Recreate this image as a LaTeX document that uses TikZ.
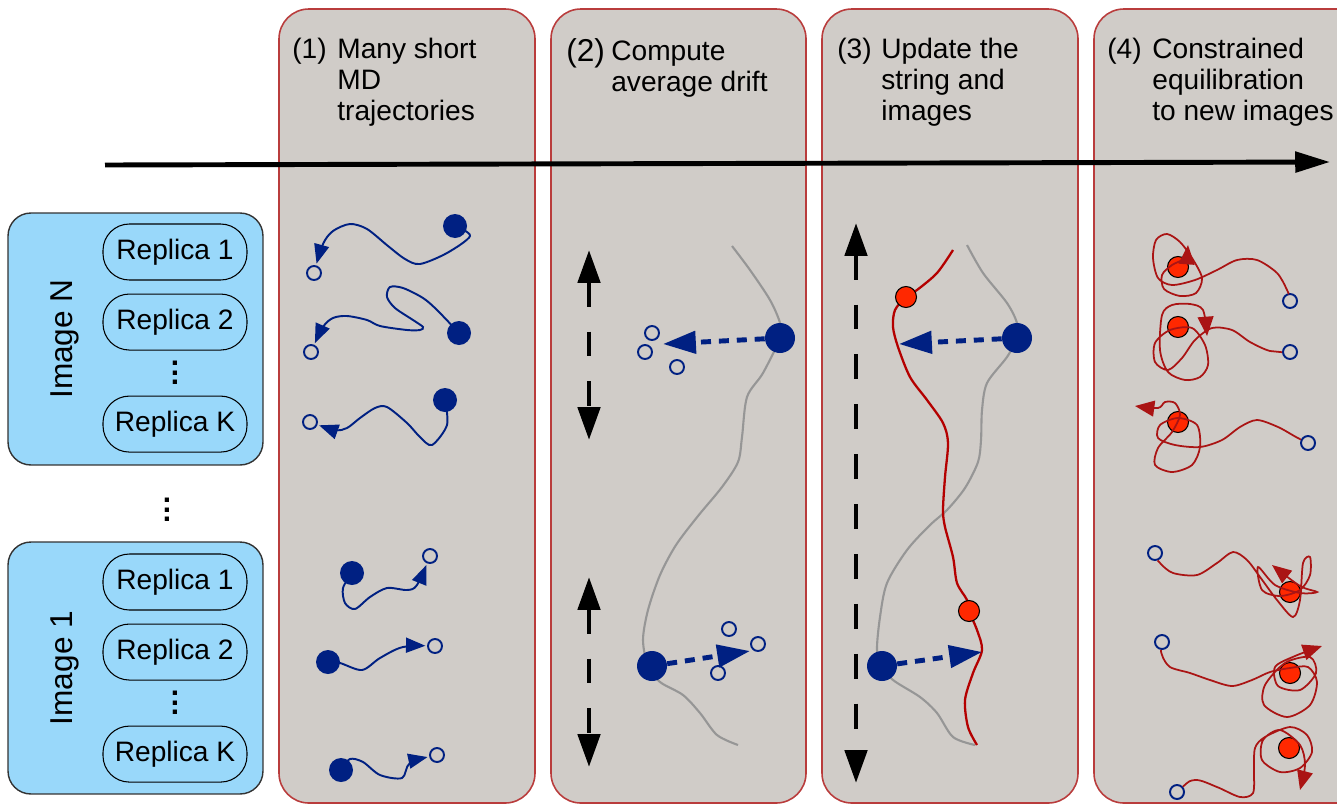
\documentclass[tikz,border=0pt]{standalone}
\usepackage{fontspec}
\setmainfont{Liberation Sans}
\usetikzlibrary{arrows.meta,positioning}

\definecolor{panelgray}{RGB}{208,204,200}
\definecolor{panelred}{RGB}{185,60,60}
\definecolor{boxblue}{RGB}{153,216,250}
\definecolor{navy}{RGB}{0,32,130}
\definecolor{stringred}{RGB}{180,0,0}
\definecolor{hotred}{RGB}{255,40,0}
\definecolor{looped}{RGB}{170,20,20}
\definecolor{stringgray}{RGB}{150,150,150}

\newcommand{\stackdots}{\vbox{\baselineskip=5.4pt\lineskiplimit=0pt
  \hbox{\textbf{.}}\hbox{\textbf{.}}\hbox{\textbf{.}}}}

\tikzset{
  panel/.style={draw=panelred, fill=panelgray, line width=0.9pt, rounded corners=17pt},
  imgbox/.style={draw=black!80, fill=boxblue, line width=0.8pt, rounded corners=13pt,
    minimum width=5.1cm, minimum height=5.04cm},
  imglabel/.style={rotate=90, inner sep=0pt, font=\fontsize{18}{21}\selectfont},
  replica/.style={draw=black, fill=boxblue, line width=0.6pt, rounded corners=15pt,
    minimum width=2.88cm, minimum height=1.12cm, inner sep=0pt, font=\fontsize{16}{19}\selectfont},
  dotsnode/.style={inner sep=0pt, font=\fontsize{17}{17}\selectfont},
  stepnum/.style={anchor=base west, inner sep=0pt, font=\fontsize{16}{17.6}\selectfont},
  steptext/.style={anchor=north west, align=left, inner sep=0pt, font=\fontsize{16}{17.6}\selectfont},
  timeline/.style={line width=2.8pt, -{Triangle[length=19.8pt,width=11.5pt]}},
  swing/.style={line width=2.8pt, dash pattern=on 14.2pt off 14.2pt,
    {Triangle[length=18.7pt,width=12.5pt]}-{Triangle[length=18.7pt,width=12.5pt]}},
  drift/.style={navy, line width=2.8pt, dash pattern=on 5.7pt off 4.5pt,
    -{Triangle[length=18.7pt,width=12.5pt]}},
  fdot/.style={circle, fill=navy, inner sep=0pt, minimum size=0.48cm},
  bigdot/.style={fdot, minimum size=0.6cm},
  odot/.style={circle, draw=navy, line width=1.1pt, inner sep=0pt, minimum size=0.28cm},
  rdot/.style={circle, draw=black, fill=hotred, line width=0.6pt, inner sep=0pt, minimum size=0.42cm},
  traj/.style={navy, line width=1.1pt, shorten >=5.5pt, -{Triangle[length=11pt,width=8.5pt]}},
  tangle/.style={looped, line width=1pt, shorten <=4.5pt, -{Triangle[length=11pt,width=9pt]}},
  gstring/.style={stringgray, line width=1.2pt},
  rstring/.style={stringred, line width=1.3pt}
}

\begin{document}
\begin{tikzpicture}[x=0.02cm,y=-0.02cm]
  \useasboundingbox (0,0) rectangle (1337,805);
  \clip (0,0) rectangle (1337,805);

  % the four stages
  \draw[panel] (279,9) rectangle (535,803);
  \draw[panel] (551,9) rectangle (806,803);
  \draw[panel] (822,9) rectangle (1078,803);
  \draw[panel] (1094,9) rectangle (1370,803);

  \node[stepnum] (num1) at (292,58) {(1)};
  \node[steptext] (head1) at (337,37.5) {Many short\\MD\\trajectories};
  \node[stepnum, font=\fontsize{18}{20}\selectfont] (num2) at (566,61) {(2)};
  \node[steptext] (head2) at (611,40.5) {Compute\\average drift};
  \node[stepnum] (num3) at (837,58) {(3)};
  \node[steptext] (head3) at (881,37.5) {Update the\\string and\\images};
  \node[stepnum] (num4) at (1107,58) {(4)};
  \node[steptext] (head4) at (1152,37.5) {Constrained\\equilibration\\to new images};

  \coordinate (tStart) at (105,165);
  \coordinate (tEnd) at (1330,162);
  \draw[timeline] (tStart) -- (tEnd);

  % images and replicas
  \node[imgbox] (imgN) at (135.5,339) {};
  \node[imglabel] (labN) at (65,339) {Image N};
  \node[replica] (nR1) at (175,252) {Replica 1};
  \node[replica, below=0.26cm of nR1] (nR2) {Replica 2};
  \node[replica, below=0.9cm of nR2] (nRK) {Replica K};
  \path (nR2) -- (nRK) node[midway, dotsnode] (nDots) {\stackdots};

  \node[dotsnode] (midDots) at (167,510) {\stackdots};

  \node[imgbox] (img1) at (135.5,668) {};
  \node[imglabel] (lab1) at (65,668) {Image 1};
  \node[replica] (oR1) at (175,582) {Replica 1};
  \node[replica, below=0.26cm of oR1] (oR2) {Replica 2};
  \node[replica, below=0.9cm of oR2] (oRK) {Replica K};
  \path (oR2) -- (oRK) node[midway, dotsnode] (oDots) {\stackdots};

  % (1) short trajectories
  \node[fdot] (fA) at (455,226) {};
  \node[odot] (oA) at (314,273) {};
  \node[fdot] (fB) at (459,333) {};
  \node[odot] (oB) at (311,352) {};
  \node[fdot] (fC) at (445,400) {};
  \node[odot] (oC) at (310,422) {};
  \node[fdot] (fD) at (352,573) {};
  \node[odot] (oD) at (430,556) {};
  \node[fdot] (fE) at (328,662) {};
  \node[odot] (oE) at (435,646) {};
  \node[fdot] (fF) at (341,770) {};
  \node[odot] (oF) at (437,755) {};

  \draw[traj] plot[smooth] coordinates {(fA) (470,236) (447,253) (420,264) (405,259) (388,246)
    (367,229) (350,224) (333,231) (323,244) (oA)};
  \draw[traj] plot[smooth] coordinates {(fB) (437,310) (423,298) (403,288) (390,287) (387,297)
    (395,308) (413,320) (423,327) (420,330) (407,330) (380,326) (367,320) (347,316) (333,318)
    (323,327) (oB)};
  \draw[traj] plot[smooth] coordinates {(fC) (447,425) (432,445) (420,437) (407,423) (387,407)
    (375,408) (360,418) (347,428) (335,430) (oC)};
  \draw[traj] plot[smooth] coordinates {(fD) (343,588) (345,603) (355,609) (370,597) (387,588)
    (407,590) (417,585) (oD)};
  \draw[traj] plot[smooth] coordinates {(fE) (340,663) (362,670) (380,658) (403,647) (oE)};
  \draw[traj] plot[smooth] coordinates {(fF) (350,759) (363,762) (380,775) (402,778) (410,763)
    (oF)};

  % (2) average drift
  \draw[gstring] plot[smooth] coordinates {(732,246) (750,270) (770,300) (780,323) (780,338)
    (763,373) (747,397) (742,437) (738,462) (722,487) (698,516) (676,545) (660,575) (648,610)
    (643,640) (648,666) (660,682) (683,695) (700,713) (717,735) (738,745)};
  \node[bigdot] (d2a) at (780,338) {};
  \node[bigdot] (d2b) at (652,666) {};
  \node[odot] (c2a) at (652,333) {};
  \node[odot] (c2b) at (645,352) {};
  \node[odot] (c2c) at (677,367) {};
  \node[odot] (c2d) at (729,629) {};
  \node[odot] (c2e) at (758,644) {};
  \node[odot] (c2f) at (718,673) {};
  \coordinate (tip2a) at (663,344);
  \coordinate (tip2b) at (750,651);
  \draw[drift] (d2a) -- (tip2a);
  \draw[drift] (d2b) -- (tip2b);

  \coordinate (up2a) at (589,250);
  \coordinate (dn2a) at (589,440);
  \coordinate (up2b) at (589,577);
  \coordinate (dn2b) at (589,767);
  \draw[swing] (up2a) -- (dn2a);
  \draw[swing] (up2b) -- (dn2b);

  % (3) new string
  \coordinate (up3) at (856,223);
  \coordinate (dn3) at (856,783);
  \draw[swing] (up3) -- (dn3);

  \draw[gstring] plot[smooth] coordinates {(967,245) (983,273) (1007,303) (1017,323) (1017,338)
    (1007,357) (987,383) (982,410) (981,440) (978,462) (965,488) (947,510) (930,525) (907,550)
    (887,583) (880,617) (877,650) (882,666) (893,680) (920,697) (937,713) (953,737) (975,745)};
  \draw[rstring] plot[smooth] coordinates {(953,250) (937,273) (917,290) (906,297) (895,310)
    (893,327) (898,347) (910,377) (927,400) (943,423) (948,443) (945,477) (943,510) (945,527)
    (953,557) (957,583) (967,600) (969,611) (977,630) (982,650) (973,673) (965,700) (968,727)
    (977,745)};
  \node[rdot] (r3a) at (906,297) {};
  \node[rdot] (r3b) at (969,611) {};
  \node[bigdot] (d3a) at (1017,338) {};
  \node[bigdot] (d3b) at (882,666) {};
  \coordinate (tip3a) at (899,344);
  \coordinate (tip3b) at (982,652);
  \draw[drift] (d3a) -- (tip3a);
  \draw[drift] (d3b) -- (tip3b);

  % (4) constrained runs
  \node[rdot] (q1) at (1178,267) {};
  \node[rdot] (q2) at (1178,327) {};
  \node[rdot] (q3) at (1178,422) {};
  \node[rdot] (q4) at (1290,592) {};
  \node[rdot] (q5) at (1290,673) {};
  \node[rdot] (q6) at (1289,748) {};
  \node[odot] (p1) at (1290,301) {};
  \node[odot] (p2) at (1290,352) {};
  \node[odot] (p3) at (1308,443) {};
  \node[odot] (p4) at (1155,553) {};
  \node[odot] (p5) at (1162,642) {};
  \node[odot] (p6) at (1177,792) {};

  \draw[tangle] plot[smooth] coordinates {(p1) (1287,290) (1277,273) (1257,260) (1237,260)
    (1217,270) (1195,280) (1172,285) (1158,278) (1153,258) (1156,240) (1167,234) (1180,242)
    (1192,258) (1202,278) (1196,293) (1180,296) (1164,289) (1162,275) (1172,265) (1185,258)
    (1188,245)};
  \draw[tangle] plot[smooth] coordinates {(p2) (1270,351) (1250,342) (1232,330) (1212,328)
    (1195,340) (1182,358) (1168,370) (1155,362) (1155,343) (1170,330) (1192,328) (1205,345)
    (1208,365) (1200,377) (1185,380) (1168,372) (1160,350) (1162,315) (1172,305) (1190,304)
    (1203,310) (1207,336)};
  \draw[tangle] plot[smooth] coordinates {(p3) (1296,437) (1278,427) (1257,420) (1240,427)
    (1222,440) (1200,447) (1175,445) (1158,438) (1160,425) (1178,418) (1197,425) (1200,447)
    (1192,465) (1172,472) (1155,465) (1158,448) (1172,432) (1180,415) (1175,403) (1165,402)
    (1158,408) (1135,406)};
  \draw[tangle] plot[smooth] coordinates {(p4) (1160,563) (1173,573) (1197,575) (1217,563)
    (1233,552) (1247,560) (1260,577) (1277,600) (1293,617) (1300,600) (1303,563) (1310,557)
    (1310,575) (1300,590) (1280,596) (1262,590) (1258,567) (1275,585) (1300,593) (1317,592)
    (1300,586) (1272,565)};
  \draw[tangle] plot[smooth] coordinates {(p5) (1162,655) (1170,667) (1190,673) (1210,680)
    (1232,686) (1252,680) (1270,672) (1290,668) (1308,667) (1317,682) (1310,705) (1287,717)
    (1264,705) (1265,685) (1285,663) (1310,657) (1316,673) (1300,690) (1278,686) (1275,667)
    (1295,656) (1322,646)};
  \draw[tangle] plot[smooth] coordinates {(p6) (1195,780) (1217,787) (1240,797) (1253,793)
    (1254,770) (1255,748) (1265,737) (1290,727) (1307,735) (1312,752) (1300,768) (1280,772)
    (1262,760) (1263,740) (1280,730) (1300,745) (1305,765) (1300,790)};
\end{tikzpicture}
\end{document}
